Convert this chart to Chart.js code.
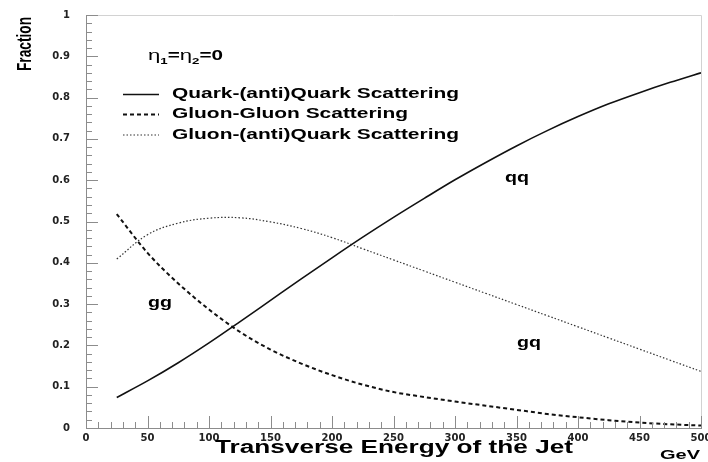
<!DOCTYPE html>
<html>
<head>
<meta charset="utf-8">
<script src="https://cdn.jsdelivr.net/npm/chart.js@4.4.1/dist/chart.umd.min.js"></script>
<style>
  html, body { margin: 0; background: #fff; }
  canvas { display: block; }
</style>
</head>
<body>
<canvas id="chart" width="708" height="462"></canvas>
<script>
// values (fraction vs jet Et in GeV)
const energy = [25, 50, 75, 100, 125, 150, 175, 200, 225, 250, 275, 300, 325, 350, 375, 400, 425, 450, 475, 500];
const quarkQuark = [0.074, 0.114, 0.158, 0.206, 0.257, 0.309, 0.361, 0.412, 0.462, 0.510, 0.556, 0.601, 0.643, 0.683, 0.720, 0.754, 0.785, 0.812, 0.837, 0.860];
const gluonGluon = [0.518, 0.424, 0.350, 0.287, 0.233, 0.190, 0.156, 0.128, 0.105, 0.087, 0.075, 0.064, 0.054, 0.044, 0.034, 0.026, 0.019, 0.013, 0.009, 0.006];
const gluonQuark = [0.409, 0.468, 0.496, 0.508, 0.509, 0.499, 0.483, 0.461, 0.434, 0.407, 0.380, 0.353, 0.326, 0.299, 0.272, 0.245, 0.218, 0.191, 0.164, 0.137];

const seriesNames = ["Quark-(anti)Quark Scattering", "Gluon-Gluon Scattering", "Gluon-(anti)Quark Scattering"];
const curveTags = ["qq", "gg", "gq"];
const xTicks = [0, 50, 100, 150, 200, 250, 300, 350, 400, 450, 500];
const yTickLabels = ["0", "0.1", "0.2", "0.3", "0.4", "0.5", "0.6", "0.7", "0.8", "0.9", "1"];

const AXIS_GRAY = "#8c8c8c";
const FONT = '"Liberation Sans", Arial, sans-serif';

function toPoints(values) {
  return energy.map((e, i) => ({ x: e, y: values[i] }));
}

// draws bold text squeezed/stretched to a given width (the original is wide Helvetica)
function fitText(ctx, text, x, y, width, size, align, baseline) {
  ctx.font = `bold ${size}px ${FONT}`;
  const sx = width / ctx.measureText(text).width;
  ctx.save();
  ctx.translate(x, y);
  ctx.scale(sx, 1);
  ctx.textAlign = align || "left";
  ctx.textBaseline = baseline || "middle";
  ctx.fillText(text, 0, 0);
  ctx.restore();
}

function line(ctx, x1, y1, x2, y2) {
  ctx.beginPath();
  ctx.moveTo(x1, y1);
  ctx.lineTo(x2, y2);
  ctx.stroke();
}

function drawEta(ctx, x, y, width) {
  const parts = [
    { t: "\u03b7", font: `15px ${FONT}`, dy: 0 },
    { t: "1", font: `bold 9px ${FONT}`, dy: 4 },
    { t: "=", font: `bold 14px ${FONT}`, dy: 0 },
    { t: "\u03b7", font: `15px ${FONT}`, dy: 0 },
    { t: "2", font: `bold 9px ${FONT}`, dy: 4 },
    { t: "=0", font: `bold 14px ${FONT}`, dy: 0 },
  ];
  let total = 0;
  parts.forEach(p => { ctx.font = p.font; p.w = ctx.measureText(p.t).width; total += p.w; });
  ctx.save();
  ctx.translate(x, y);
  ctx.scale(width / total, 1);
  ctx.textAlign = "left";
  ctx.textBaseline = "alphabetic";
  let cx = 0;
  parts.forEach(p => { ctx.font = p.font; ctx.fillText(p.t, cx, p.dy); cx += p.w; });
  ctx.restore();
}

const decorations = {
  id: "decorations",
  afterDraw(chart) {
    const { ctx, chartArea: a, scales: { x, y } } = chart;
    ctx.save();

    // light frame on top and right
    ctx.strokeStyle = "#d2d2d2";
    ctx.lineWidth = 1;
    ctx.beginPath();
    ctx.moveTo(a.left, a.top + 0.5);
    ctx.lineTo(a.right + 0.5, a.top + 0.5);
    ctx.lineTo(a.right + 0.5, a.bottom);
    ctx.stroke();

    // inward ticks, minor every 10 GeV / 0.02
    ctx.strokeStyle = AXIS_GRAY;
    for (let v = 0; v <= 500; v += 10) {
      const px = Math.round(x.getPixelForValue(v)) + 0.5;
      line(ctx, px, a.bottom, px, a.bottom - (v % 50 === 0 ? 12 : 6));
    }
    for (let i = 0; i <= 50; i++) {
      const py = Math.round(y.getPixelForValue(i / 50)) + 0.5;
      line(ctx, a.left, py, a.left + (i % 5 === 0 ? 12 : 6), py);
    }

    ctx.fillStyle = "#000";

    // legend
    const rowsY = [94.5, 114.5, 135];
    const rowsW = [287, 236, 287];
    chart.data.datasets.forEach((ds, i) => {
      ctx.strokeStyle = ds.borderColor;
      ctx.lineWidth = ds.borderWidth;
      ctx.setLineDash(ds.borderDash || []);
      line(ctx, 123, rowsY[i], 159, rowsY[i]);
      ctx.setLineDash([]);
      fitText(ctx, seriesNames[i], 172, rowsY[i], rowsW[i], 14);
    });

    drawEta(ctx, 148, 60, 75);

    // curve tags
    fitText(ctx, curveTags[0], 517, 182, 24, 14, "center", "alphabetic");
    fitText(ctx, curveTags[1], 160, 307, 24, 14, "center", "alphabetic");
    fitText(ctx, curveTags[2], 529, 347, 24, 14, "center", "alphabetic");

    // axis titles
    fitText(ctx, "Transverse Energy of the Jet", 394, 448, 358, 18, "center");
    fitText(ctx, "GeV", 680, 456, 40, 12, "center");

    ctx.font = `bold 15px ${FONT}`;
    const fw = ctx.measureText("Fraction").width;
    ctx.translate(25, 44);
    ctx.rotate(-Math.PI / 2);
    ctx.scale(54 / fw, 1.35);
    ctx.textAlign = "center";
    ctx.textBaseline = "middle";
    ctx.fillText("Fraction", 0, 0);

    ctx.restore();
  },
};

const tickFont = { family: '"DejaVu Sans", sans-serif', weight: "bold", size: 10 };

new Chart(document.getElementById("chart"), {
  type: "line",
  data: {
    datasets: [
      {
        label: seriesNames[0],
        data: toPoints(quarkQuark),
        borderColor: "#111",
        borderWidth: 1.6,
      },
      {
        label: seriesNames[1],
        data: toPoints(gluonGluon),
        borderColor: "#111",
        borderWidth: 2,
        borderDash: [4, 3],
      },
      {
        label: seriesNames[2],
        data: toPoints(gluonQuark),
        borderColor: "#333",
        borderWidth: 1.2,
        borderDash: [1.5, 2],
        // has a maximum, so a plain spline looks smoother than monotone here
        cubicInterpolationMode: "default",
        tension: 0.4,
      },
    ],
  },
  options: {
    responsive: false,
    animation: false,
    devicePixelRatio: 1,
    parsing: false,
    elements: {
      point: { radius: 0 },
      line: { cubicInterpolationMode: "monotone", fill: false },
    },
    layout: { padding: { top: 15, right: 7, left: 0, bottom: 0 } },
    plugins: { legend: { display: false }, tooltip: { enabled: false } },
    scales: {
      x: {
        type: "linear",
        min: 0,
        max: 500,
        afterBuildTicks: s => { s.ticks = xTicks.map(v => ({ value: v })); },
        ticks: { font: tickFont, color: "#222", padding: 4, maxRotation: 0, autoSkip: false },
        grid: { display: false, drawTicks: false },
        border: { color: AXIS_GRAY },
        afterFit: s => { s.height = 34; s.paddingLeft = 0; s.paddingRight = 0; },
      },
      y: {
        type: "linear",
        min: 0,
        max: 1,
        ticks: {
          stepSize: 0.1,
          font: tickFont,
          color: "#222",
          padding: 16,
          callback: (v, i) => yTickLabels[i],
        },
        grid: { display: false, drawTicks: false },
        border: { color: AXIS_GRAY },
        afterFit: s => { s.width = 86; s.paddingTop = 0; s.paddingBottom = 0; },
      },
    },
  },
  plugins: [decorations],
});
</script>
</body>
</html>
